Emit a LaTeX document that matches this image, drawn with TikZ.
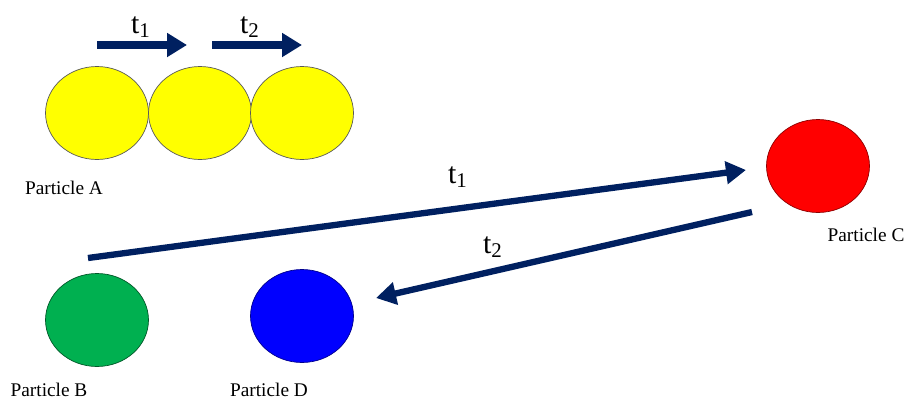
\documentclass[tikz,border=0pt]{standalone}
\usepackage{fontspec}
\setmainfont{Liberation Serif}
\usetikzlibrary{arrows.meta,positioning,shapes.geometric}
\definecolor{navy}{RGB}{0,32,96}
\definecolor{ballyellow}{RGB}{255,255,0}
\definecolor{ballred}{RGB}{255,0,0}
\definecolor{ballgreen}{RGB}{0,176,80}
\definecolor{ballblue}{RGB}{0,0,255}
\tikzset{
  ball/.style={ellipse,draw,thin,minimum width=2.06cm,minimum height=1.86cm,inner sep=0pt},
  edge/.style={-{Triangle[length=0.4cm,width=0.44cm]},line width=3.6pt,navy},
  topedge/.style={-{Triangle[length=0.4cm,width=0.46cm]},line width=4pt,navy},
  plabel/.style={font=\fontsize{11}{13}\selectfont},
  tlabel/.style={font=\fontsize{17}{20}\selectfont},
  every node/.style={inner sep=1pt}
}

\begin{document}
\begin{tikzpicture}[x=0.02cm,y=-0.02cm]
\useasboundingbox (0,0) rectangle (907,407);
% particle A at three times
\node[ball,fill=ballyellow,draw=black!65] (a1) at (97,113) {};
\node[ball,fill=ballyellow,draw=black!65] (a2) at (200,113) {};
\node[ball,fill=ballyellow,draw=black!65] (a3) at (302,113) {};
\node[plabel] (la) at (64,188) {Particle A};
\coordinate (s1) at (97,45);
\coordinate (e1) at (187,45);
\coordinate (s2) at (212,45);
\coordinate (e2) at (302,45);
\draw[topedge] (s1) -- (e1);
\draw[topedge] (s2) -- (e2);
\node[tlabel] (ta1) at (141,27) {t\textsubscript{1}};
\node[tlabel] (ta2) at (250,27) {t\textsubscript{2}};
% particles B, C, D
\node[ball,fill=ballred,draw=ballred!55!black] (pc) at (818,166) {};
\node[plabel] (lc) at (866,235) {Particle C};
\node[ball,fill=ballgreen,draw=ballgreen!50!black] (pb) at (97,320) {};
\node[plabel] (lb) at (49,390) {Particle B};
\node[ball,fill=ballblue,draw=ballblue!55!black] (pd) at (302,316) {};
\node[plabel] (ld) at (269,390) {Particle D};
% B to C, then C to D
\coordinate (bout) at (88,258);
\coordinate (cin) at (746,170);
\coordinate (cout) at (752,212);
\coordinate (din) at (376,298);
\draw[edge] (bout) -- (cin);
\draw[edge] (cout) -- (din);
\node[tlabel] (t1) at (458,177) {t\textsubscript{1}};
\node[tlabel] (t2) at (493,247) {t\textsubscript{2}};
\end{tikzpicture}
\end{document}
